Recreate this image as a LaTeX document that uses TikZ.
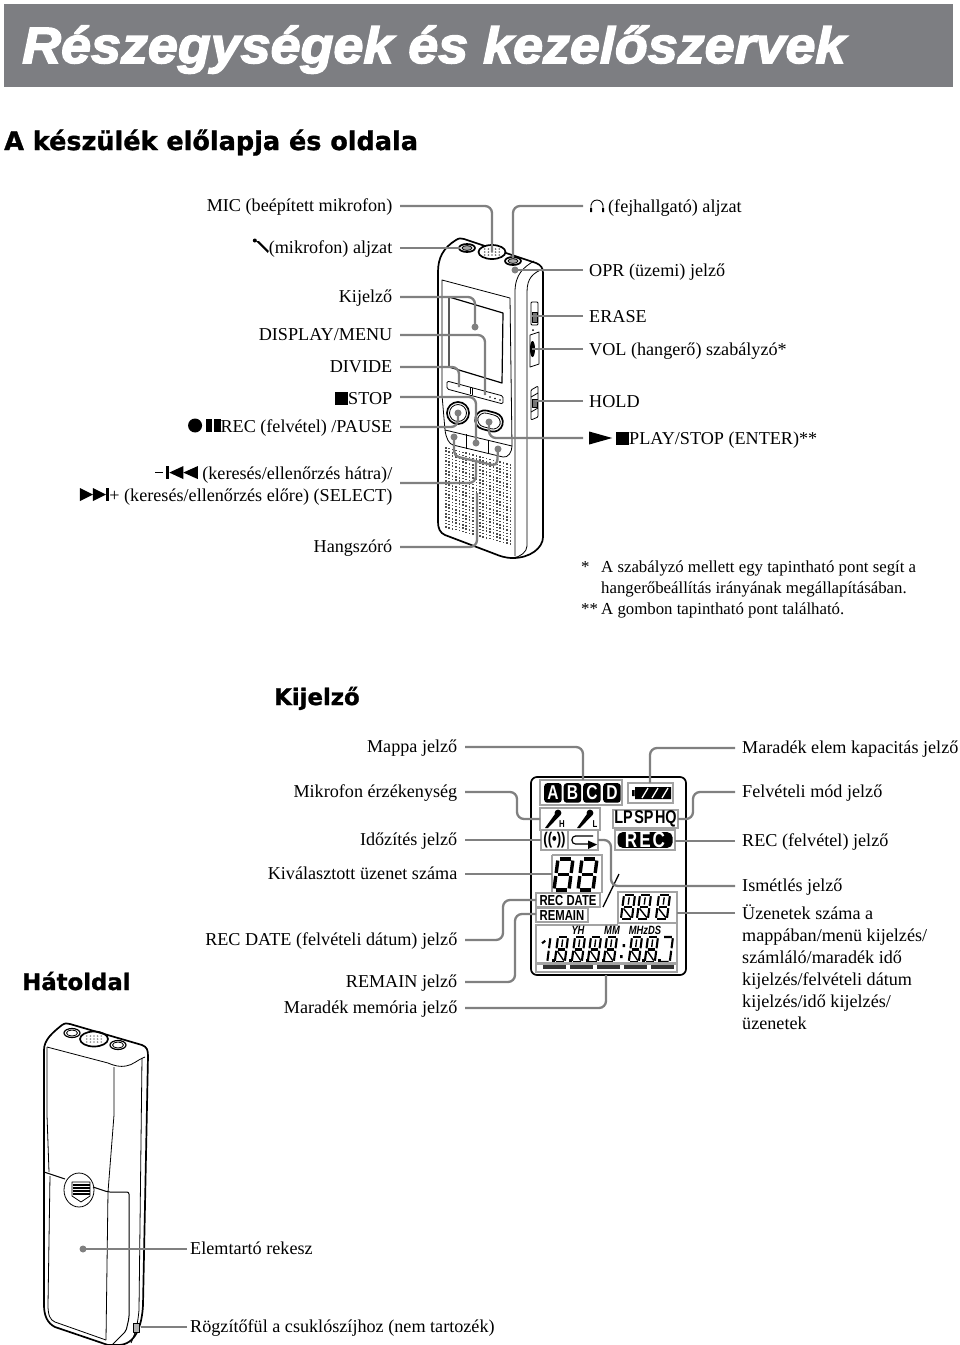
\documentclass[tikz,border=0pt]{standalone}
\usepackage{fontspec}
\setmainfont{Liberation Serif}
\newfontfamily\titlefont[BoldItalicFeatures={FakeBold=3,FakeStretch=1.056}]{Liberation Sans}
\newfontfamily\headfont[BoldFeatures={FakeBold=1.2}]{DejaVu Sans}
\newfontfamily\lcdfont[FakeStretch=0.78]{Liberation Sans}
\usepackage{tikz}
\definecolor{bandgray}{HTML}{7D7E82}
\definecolor{leadgray}{HTML}{808080}
\definecolor{framegray}{HTML}{A3A3A3}

% inline key symbols
\newcommand{\symstop}{\tikz[x=1pt,y=1pt,baseline=0pt]\fill (0,0) rectangle (13,12.5);}
\newcommand{\symrec}{\tikz[x=1pt,y=1pt,baseline=0pt]{\fill (7,6.5) circle (7); \fill (17.5,0) rectangle (24,13); \fill (26,0) rectangle (32.5,13);}}
\newcommand{\symback}{\tikz[x=1pt,y=1pt,baseline=0pt]{\fill (0,5.8) rectangle (8,6.8); \fill (11,0) rectangle (14.5,13); \fill (14.5,6.5) -- (28.5,13) -- (28.5,0) -- cycle; \fill (28.5,6.5) -- (43,13) -- (43,0) -- cycle;}}
\newcommand{\symfwd}{\tikz[x=1pt,y=1pt,baseline=0pt]{\fill (0,13) -- (13,6.5) -- (0,0) -- cycle; \fill (13,13) -- (26,6.5) -- (13,0) -- cycle; \fill (26,0) rectangle (29.5,13);}}
\newcommand{\symplay}{\tikz[x=1pt,y=1pt,baseline=0pt]{\fill (0,13) -- (23,6.5) -- (0,0) -- cycle; \fill (27,0) rectangle (40,13);}}
\newcommand{\symmic}{\tikz[x=1pt,y=1pt,baseline=0pt]{\fill (2,12.5) circle (2); \fill (3,12) -- (6,12) -- (16,2) -- (15,0) -- cycle;}}

\tikzset{
    lblbase/.style={inner ysep=0pt, font=\fontsize{18.15}{22}\selectfont},
    lblr/.style={lblbase, anchor=east, inner xsep=7.5pt, text height=14pt, text depth=4pt},
    lbll/.style={lblbase, anchor=west, inner xsep=6pt, text height=17pt, text depth=4pt},
    lbllcd/.style={lblbase, anchor=west, inner xsep=7pt, text height=15pt, text depth=4pt},
    notetext/.style={anchor=base west, inner sep=0pt, font=\fontsize{16.8}{21}\selectfont},
    heading/.style={anchor=base west, inner sep=0pt, font=\headfont\bfseries\fontsize{22.8}{28}\selectfont},
    leader/.style={draw=leadgray, line width=2.3pt, rounded corners=7pt},
    leaddot/.style={circle, fill=leadgray, inner sep=0pt, minimum size=7pt},
    body/.style={draw=black, line width=1.7pt, line join=round},
    thinline/.style={draw=black, line width=0.8pt, line join=round},
    lcdbox/.style={draw=framegray, line width=1.9pt},
    lcdtext/.style={inner sep=0pt, font=\lcdfont\bfseries\fontsize{14.5}{16}\selectfont},
    lcdsmall/.style={inner sep=0pt, font=\lcdfont\bfseries\itshape\fontsize{12}{12}\selectfont},
    seg/.style={line width=3.4pt, line cap=butt},
    segthin/.style={line width=2.1pt, line cap=butt},
    % seven segment figure, unit cell 1 x 2
    segbig/.pic={
        \draw[seg] (0.12,0) -- (0.88,0) (0.12,1) -- (0.88,1) (0.12,2) -- (0.88,2);
        \draw[seg] (0,0.1) -- (0,0.9) (1,0.1) -- (1,0.9) (0,1.1) -- (0,1.9) (1,1.1) -- (1,1.9);
    },
    segfine/.pic={
        \draw[segthin] (0.12,0) -- (0.88,0) (0.12,1) -- (0.88,1) (0.12,2) -- (0.88,2);
        \draw[segthin] (0,0.1) -- (0,0.9) (1,0.1) -- (1,0.9) (0,1.1) -- (0,1.9) (1,1.1) -- (1,1.9);
        \draw[line width=1.4pt] (0.12,1.12) -- (0.88,1.88) (0.5,0.2) -- (0.5,0.8);
    },
    segone/.pic={
        \draw[segthin] (1,0.1) -- (1,0.9) (1,1.1) -- (1,1.9) (0.2,0.5) -- (0.5,0.3);
    },
    segseven/.pic={
        \draw[segthin] (0.12,0) -- (0.88,0) (1,0.1) -- (1,0.9) (1,1.1) -- (1,1.9) (0.12,2) -- (0.88,2);
    },
    lcdmic/.pic={
        \fill (0,0) circle (3.4);
        \fill (-3,1) -- (1.5,3) -- (-10,15) -- (-13,15) -- cycle;
    },
}

\begin{document}
\begin{tikzpicture}[x=1pt,y=-1pt]
    \useasboundingbox (0,0) rectangle (960,1345);

    % Title band and headings
    \fill[bandgray] (3.5,4) rectangle (953,87);
    \node[anchor=base west, inner sep=0pt, text=white, font=\titlefont\bfseries\itshape\fontsize{51}{56}\selectfont] (title) at (22,63) {Részegységek és kezelőszervek};
    \node[heading, font=\headfont\bfseries\fontsize{25.5}{28}\selectfont] (headfront) at (4,150) {A készülék előlapja és oldala};
    \node[heading] (headlcd) at (274,705) {Kijelző};
    \node[heading] (headback) at (22,990) {Hátoldal};

    % Front view: body
    \draw[body, fill=white] (438,272) .. controls (438,258) and (443,248) .. (456,240) .. controls (459,238) and (461,238) .. (464,239) -- (536,263) .. controls (541,265) and (543,268) .. (543,273) -- (543,537) .. controls (543,548) and (530,558) .. (513,558) .. controls (505,558) and (500,556) .. (495,554) -- (445,535) .. controls (440,533) and (438,528) .. (438,522) -- cycle;
    \draw[thinline] (515,556) -- (515,292) .. controls (515,274) and (524,267) .. (534,261);
    \draw[thinline] (527,546) -- (527,292) .. controls (527,278) and (533,273) .. (543,269);
    \draw[thinline] (527,546) .. controls (527,552) and (520,557) .. (513,558);
    % face panel and screen
    \draw[thinline] (442,280) -- (510,298) -- (512,446) .. controls (512,452) and (508,458) .. (503,457) -- (453,445) .. controls (449,444) and (446,438) .. (445,430) -- (442,395) -- cycle;
    \draw[thinline] (445,430) -- (512,446);
    \draw[thinline] (466,434) -- (466,449) (488,440) -- (488,454);
    \draw[body, line width=1.2pt] (449,297) -- (503,313) -- (502,383) -- (449,367) -- cycle;
    % strip buttons
    \draw[thinline, rounded corners=1.5pt] (447,381) -- (503,396) -- (503,404) -- (447,389) -- cycle;
    \draw[thinline] (470,387) -- (470,394) (472,388) -- (472,395);
    \fill (490,397) circle (0.8) (495,398.5) circle (0.8) (500,400) circle (0.8);
    % record and play buttons
    \draw[body] (458,413) circle (11);
    \draw[thinline] (458,413) circle (8.5);
    \draw[body, rotate around={-15:(489,421)}, rounded corners=9.5pt] (475,411.5) rectangle (503,430.5);
    \draw[thinline, rotate around={-15:(489,421)}, rounded corners=7.5pt] (477.5,414) rectangle (500.5,428);
    % speaker grille
    \foreach \i in {0,...,19} {
        \foreach \j in {0,...,24} {
            \fill[black!70] ({445+3.4*\i},{447+0.9*\i+3.3*\j}) rectangle ++(1.5,1.5);
        }
    }
    % top jacks and microphone
    \draw[body, fill=white] (492,252) ellipse (13.5 and 7);
    \foreach \i in {-2,...,2} {
        \foreach \j in {-1,0,1} {
            \fill[black!60] ({492+3.6*\i},{252+3*\j}) circle (0.9);
        }
    }
    \foreach \x/\y in {467/248,513/261} {
        \draw[body, fill=white] (\x,\y) ellipse (8 and 4);
        \draw[thinline, fill=black!35] (\x,\y) ellipse (5 and 2.4);
    }
    \fill[black!55] (515,270) circle (2.5);
    % side controls
    \draw[thinline, rounded corners=1pt] (531,302) rectangle (538,325);
    \draw[thinline, fill=black!55] (532,312) rectangle (537,322);
    \draw[thinline] (530,335) -- (539,332) -- (539,364) -- (530,367) -- cycle;
    \fill (532.5,349) ellipse (2.5 and 8);
    \fill (533,330) circle (1);
    \draw[thinline, rounded corners=1pt] (531,390) -- (538,386) -- (538,417) -- (531,420) -- cycle;
    \draw[thinline] (531,397) -- (538,393) (531,412) -- (538,408);
    \draw[thinline, fill=black!55] (532,399) rectangle (537,407);

    % Front view: labels on the left
    \node[lblr] (mic) at (400,206) {MIC (beépített mikrofon)};
    \node[lblr] (micjack) at (400,248) {\symmic(mikrofon) aljzat};
    \node[lblr] (kijelzo) at (400,297) {Kijelző};
    \node[lblr] (dispmenu) at (400,335) {DISPLAY/MENU};
    \node[lblr] (divide) at (400,367) {DIVIDE};
    \node[lblr, text height=19pt] (stopkey) at (400,397) {\symstop STOP};
    \node[lblr] (reckey) at (400,427) {\symrec REC (felvétel) /PAUSE};
    \node[lblbase, anchor=east, inner xsep=7.5pt, align=right] (search) at (400,485.5) {\symback{} (keresés/ellenőrzés hátra)/\\\symfwd+ (keresés/ellenőrzés előre) (SELECT)};
    \node[lblr] (hangszoro) at (400,547) {Hangszóró};

    % Front view: labels on the right
    \node[lbll] (phones) at (583,206) {\hspace*{19pt}(fejhallgató) aljzat};
    \node[lbll] (opr) at (583,270) {OPR (üzemi) jelző};
    \node[lbll] (erase) at (583,316) {ERASE};
    \node[lbll] (vol) at (583,349) {VOL (hangerő) szabályzó*};
    \node[lbll] (hold) at (583,401) {HOLD};
    \node[lbll] (playkey) at (583,438) {\symplay PLAY/STOP (ENTER)**};
    % headphone sign
    \draw[line width=0.9pt] (591,209) .. controls (589,197) and (605,197) .. (603,209);
    \fill (590,208) rectangle (592,212) (602,208) rectangle (604,212);

    % Front view: notes
    \node[notetext] (noteone) at (581,572) {*};
    \node[notetext] (notetwo) at (601,572) {A szabályzó mellett egy tapintható pont segít a};
    \node[notetext] (notethree) at (601,593) {hangerőbeállítás irányának megállapításában.};
    \node[notetext] (notefour) at (581,614) {**};
    \node[notetext] (notefive) at (601,614) {A gombon tapintható pont található.};

    % Front view: leaders
    \coordinate (micend) at (492,252);
    \coordinate (jackend) at (460,248);
    \coordinate (dispend) at (485,395);
    \coordinate (dividend) at (459,387);
    \coordinate (hangend) at (477,493);
    \coordinate (phonend) at (513,258);
    \coordinate (eraseend) at (532,316);
    \coordinate (volend) at (532,349);
    \coordinate (holdend) at (535,401);
    \node[leaddot] (kijdot) at (475,327) {};
    \node[leaddot] (stopdot) at (476,443) {};
    \node[leaddot] (recdot) at (458,413) {};
    \node[leaddot] (oprdot) at (515,270) {};
    \node[leaddot] (playdot) at (489,422) {};
    \node[leaddot] (backdot) at (454,437) {};
    \node[leaddot] (fwddot) at (498,449) {};
    \coordinate (brackmid) at (476,460);
    \coordinate (searchend) at (400,483);
    \draw[leader] (mic.east) -| (micend);
    \draw[leader] (micjack.east) -- (jackend);
    \draw[leader] (kijelzo.east) -| (kijdot.center);
    \draw[leader] (dispmenu.east) -| (dispend);
    \draw[leader] (divide.east) -| (dividend);
    \draw[leader] (stopkey.east) -| (stopdot.center);
    \draw[leader] (reckey.east) -| (recdot.center);
    \draw[leader] (searchend) -| (brackmid);
    \draw[leader] (hangszoro.east) -| (hangend);
    \draw[leader] (phones.west) -| (phonend);
    \draw[leader] (opr.west) -- (oprdot.center);
    \draw[leader] (erase.west) -- (eraseend);
    \draw[leader] (vol.west) -- (volend);
    \draw[leader] (hold.west) -- (holdend);
    \draw[leader] (playkey.west) -| (playdot.center);
    \draw[leader, rounded corners=5pt] (backdot.center) -- (454,456) -- (497,466) -- (fwddot.center);

    % LCD panel
    \draw[body, rounded corners=6pt] (531,777) rectangle (686,975);
    \draw[lcdbox] (540,780) rectangle (622,805);
    \foreach \x/\l in {544/A,563.5/B,583/C,603/D} {
        \node[fill=black, rounded corners=3pt, minimum width=17.5pt, minimum height=19.5pt, inner sep=0pt, text=white, font=\lcdfont\bfseries\fontsize{20}{20}\selectfont, anchor=north west] (letter\l) at (\x,783) {\l};
    }
    % battery
    \draw[lcdbox] (628,783) rectangle (673,803);
    \fill (635,787) rectangle (671,799) (632,790) rectangle (634.5,796);
    \foreach \x in {642,652,662} {
        \draw[white, line width=1.3pt] (\x,798) -- (\x+6,788);
    }
    % microphone sensitivity
    \draw[lcdbox] (540,808) rectangle (600,830);
    \pic at (558,813) {lcdmic};
    \pic at (590,813) {lcdmic};
    \node[lcdtext, font=\lcdfont\bfseries\fontsize{10}{10}\selectfont] (sensh) at (562,824) {H};
    \node[lcdtext, font=\lcdfont\bfseries\fontsize{10}{10}\selectfont] (sensl) at (595,824) {L};
    % recording mode and rec
    \draw[lcdbox] (613,810) rectangle (678,828);
    \node[lcdtext, font=\lcdfont\bfseries\fontsize{18.5}{20}\selectfont] (recmode) at (645.5,819) {LP\hspace{1.5pt}SP\hspace{1.5pt}HQ};
    \draw[lcdbox] (615,830) rectangle (675,850);
    \node[fill=black, rounded corners=5pt, minimum width=55pt, minimum height=15pt, inner sep=0pt, text=white, font=\lcdfont\bfseries\fontsize{22}{20}\selectfont] (recsign) at (645,840) {R\hspace{2pt}E\hspace{2pt}C};
    % timer and repeat
    \draw[lcdbox] (541,830) rectangle (568,850) (568,830) rectangle (598,850);
    \node[lcdtext, font=\lcdfont\bfseries\fontsize{17}{16}\selectfont] (timersign) at (554.5,840) {((•))};
    \draw[line width=1.2pt, rounded corners=3.5pt] (593,836) -- (572,836) -- (572,844) -- (588,844);
    \fill (588,840.5) -- (597,844.5) -- (588,849) -- cycle;
    % message digits
    \draw[lcdbox] (552,855) -- (602,855) -- (602,893) (552,893) -- (552,855);
    \pic[xslant=0.13, xscale=15, yscale=15.5] at (558,859) {segbig};
    \pic[xslant=0.13, xscale=15, yscale=15.5] at (582,859) {segbig};
    % rec date, remain
    \draw[lcdbox] (536,893) rectangle (600,907) (536,908) rectangle (588,922);
    \node[lcdtext] (recdate) at (568,900.5) {REC DATE};
    \node[lcdtext] (remain) at (562,915) {REMAIN};
    \draw[line width=1.3pt] (603,907) -- (619,874);
    % folder count digits
    \draw[lcdbox] (618,892) rectangle (677,923);
    \foreach \x in {624,640,659} {
        \pic[xslant=0.13, xscale=11, yscale=12] at (\x,895) {segfine};
    }
    % lower row
    \draw[lcdbox] (618,925) -- (536,925) -- (536,972) -- (677,972) -- (677,923);
    \node[lcdsmall] (yhmark) at (578,930.5) {YH};
    \node[lcdsmall] (mmmark) at (612,930.5) {MM};
    \node[lcdsmall] (mhzmark) at (645,930.5) {MHzDS};
    \pic[xslant=0.13, xscale=9.5, yscale=12.5] at (541,937) {segone};
    \foreach \x in {558,575,591,607,632,648} {
        \pic[xslant=0.13, xscale=10, yscale=12.5] at (\x,937) {segfine};
    }
    \pic[xslant=0.13, xscale=10, yscale=12.5] at (663,937) {segseven};
    \foreach \x in {552,569,586,602,642,658} {
        \fill (\x,958.5) rectangle ++(2.5,3);
    }
    \fill (622.5,944) rectangle ++(2.5,3) (620,955) rectangle ++(2.5,3);
    % memory bars
    \fill[framegray] (537,962) rectangle (676,965);
    \foreach \x in {542.5,570,597,624,651} {
        \fill[black!80] (\x,965) rectangle ++(23,4);
    }

    % LCD labels on the left
    \node[lblr] (mappa) at (465,747) {Mappa jelző};
    \node[lblr] (mikerz) at (465,792) {Mikrofon érzékenység};
    \node[lblr] (idozit) at (465,840) {Időzítés jelző};
    \node[lblr] (uzenet) at (465,874) {Kiválasztott üzenet száma};
    \node[lblr] (recdat) at (465,940) {REC DATE (felvételi dátum) jelző};
    \node[lblr] (maradt) at (465,982) {REMAIN jelző};
    \node[lblr] (memoria) at (465,1008) {Maradék memória jelző};

    % LCD labels on the right
    \node[lbllcd] (elem) at (735,748) {Maradék elem kapacitás jelző};
    \node[lbllcd] (felvmod) at (735,792) {Felvételi mód jelző};
    \node[lbllcd] (recjel) at (735,841) {REC (felvétel) jelző};
    \node[lbllcd] (ismetles) at (735,886) {Ismétlés jelző};
    \node[lblbase, anchor=north west, inner xsep=7pt, align=left] (uzszam) at (735,905) {Üzenetek száma a\\mappában/menü kijelzés/\\számláló/maradék idő\\kijelzés/felvételi dátum\\kijelzés/idő kijelzés/\\üzenetek};
    \coordinate (uzstart) at (735,913);

    % LCD leaders
    \coordinate (mappaend) at (583,780);
    \coordinate (mikend) at (540,819);
    \coordinate (idoend) at (541,840);
    \coordinate (uzend) at (552,874);
    \coordinate (dateend) at (536,900);
    \coordinate (remend) at (536,914);
    \coordinate (memend) at (606,975);
    \coordinate (elemend) at (650,783);
    \coordinate (modend) at (678,819);
    \coordinate (recend) at (675,841);
    \coordinate (ismend) at (598,840);
    \coordinate (szamend) at (677,913);
    \draw[leader] (mappa.east) -| (mappaend);
    \draw[leader] (mikerz.east) -| (517,819) -- (mikend);
    \draw[leader] (idozit.east) -- (idoend);
    \draw[leader] (uzenet.east) -- (uzend);
    \draw[leader] (recdat.east) -| (503,900) -- (dateend);
    \draw[leader] (maradt.east) -| (515,914) -- (remend);
    \draw[leader] (memoria.east) -| (memend);
    \draw[leader] (elem.west) -| (elemend);
    \draw[leader] (felvmod.west) -| (693,819) -- (modend);
    \draw[leader] (recjel.west) -- (recend);
    \draw[leader] (ismetles.west) -| (611,840) -- (ismend);
    \draw[leader] (uzstart) -- (szamend);

    % Back view: body
    \draw[body] (44,1050) .. controls (44,1040) and (52,1033) .. (62,1025) .. controls (65,1023) and (67,1023) .. (70,1024) -- (142,1045) .. controls (147,1047) and (148,1050) .. (148,1056) -- (143,1305) .. controls (142,1325) and (136,1345) .. (118,1345) -- (108,1345) -- (55,1327) .. controls (47,1323) and (44,1315) .. (44,1305) -- cycle;
    \draw[thinline] (47,1047) -- (108,1063) .. controls (115,1066) and (120,1067) .. (126,1066) .. controls (133,1065) and (137,1060) .. (145,1057);
    \draw[thinline] (114,1067) -- (114,1115) -- (108,1192) -- (106,1340);
    \draw[thinline] (142,1058) -- (139,1310) .. controls (138,1322) and (136,1332) .. (131,1343);
    \draw[thinline] (47,1047) -- (47,1115) -- (49,1172);
    \draw[thinline] (50,1176) -- (48,1305) .. controls (48,1315) and (50,1320) .. (55,1322) -- (106,1340);
    \draw[body, line width=1pt] (44,1172) -- (65,1179);
    \draw[body, line width=1pt, rounded corners=2pt] (93,1187) -- (108,1192) -- (129,1192) -- (129,1318) -- (126,1331) -- (112,1345);
    \draw[thinline] (79,1190) ellipse (15 and 17);
    \draw[thinline] (72,1182) -- (90,1182) -- (90,1196) -- (81,1202) -- (72,1196) -- cycle;
    \foreach \y in {1185,1188,1191,1194} {
        \draw[line width=1.1pt] (72.5,\y) -- (89.5,\y);
    }
    \foreach \x/\y in {72/1033,118/1045} {
        \draw[body, line width=1.2pt] (\x,\y) ellipse (8 and 4.5);
        \draw[thinline] (\x,\y) ellipse (5.5 and 3);
    }
    \draw[body] (94,1039) ellipse (14 and 7.5);
    \foreach \i in {-2,...,2} {
        \foreach \j in {-1,0,1} {
            \fill[black!45] ({94+3.6*\i},{1039+3*\j}) circle (0.9);
        }
    }
    \draw[thinline, fill=black!30] (133,1323) rectangle (139,1332);

    % Back view: labels and leaders
    \node[lbllcd, inner xsep=3pt] (rekesz) at (187,1249) {Elemtartó rekesz};
    \node[lbllcd, inner xsep=3pt] (szijful) at (187,1327) {Rögzítőfül a csuklószíjhoz (nem tartozék)};
    \node[leaddot] (rekdot) at (83,1249) {};
    \coordinate (fulend) at (141,1327);
    \draw[leader] (rekesz.west) -- (rekdot.center);
    \draw[leader] (szijful.west) -- (fulend);
\end{tikzpicture}
\end{document}
